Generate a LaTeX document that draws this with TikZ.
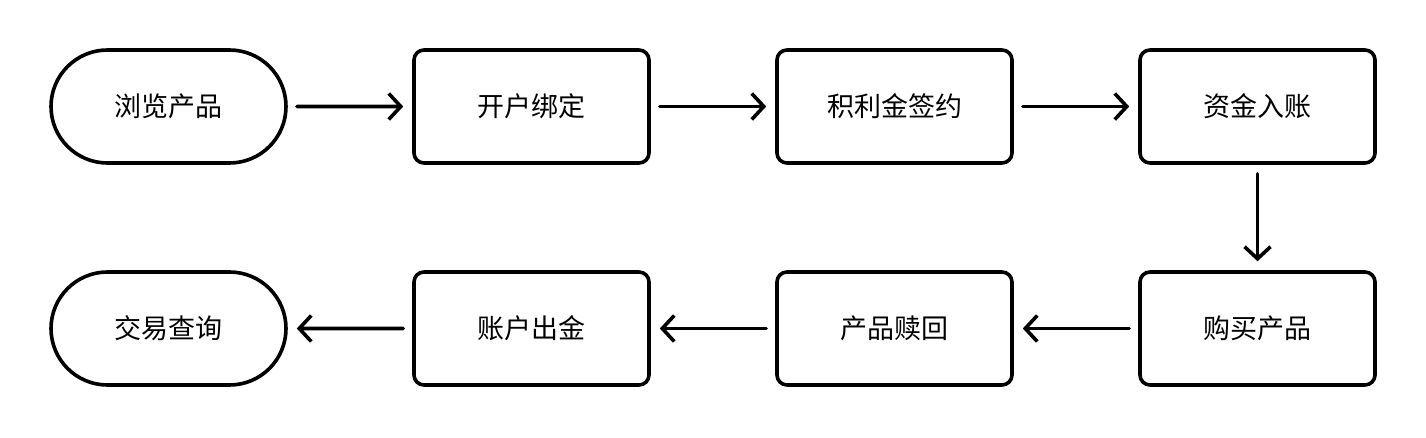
\documentclass[tikz,border=0pt]{standalone}
\usepackage{fontspec}
\setmainfont{Noto Sans CJK SC}
\usetikzlibrary{shapes.misc,arrows.meta}

\begin{document}
\begin{tikzpicture}[x=1pt,y=1pt,
                        box/.style={draw,line width=3.6pt,minimum width=235pt,minimum height=113pt,font=\fontsize{27}{32}\selectfont,inner sep=0pt},
                        stepbox/.style={box,rounded corners=10pt},
                        endbox/.style={box,rounded rectangle},
                        flow/.style={-{Straight Barb[length=12pt,width=26pt]},line width=3.6pt,line cap=round,shorten >=9pt,shorten <=9pt}]
      \useasboundingbox (0,0) rectangle (1426,-438);

      \node[endbox] (a1) at (168.5,-106.5) {浏览产品};
      \foreach[count=\i from 2,evaluate={168.5+(\i-1)*363} as \x] \t in {开户绑定,积利金签约,资金入账} {
        \node[stepbox] (a\i) at (\x,-106.5) {\t};
      }

      \node[endbox] (b1) at (168.5,-328.5) {交易查询};
      \foreach[count=\i from 2,evaluate={168.5+(\i-1)*363} as \x] \t in {账户出金,产品赎回,购买产品} {
        \node[stepbox] (b\i) at (\x,-328.5) {\t};
      }

      \draw[flow] (a1) -- (a2);
      \draw[flow] (a2) -- (a3);
      \draw[flow] (a3) -- (a4);
      \draw[flow] (a4) -- (b4);
      \draw[flow] (b4) -- (b3);
      \draw[flow] (b3) -- (b2);
      \draw[flow] (b2) -- (b1);
    \end{tikzpicture}
\end{document}
